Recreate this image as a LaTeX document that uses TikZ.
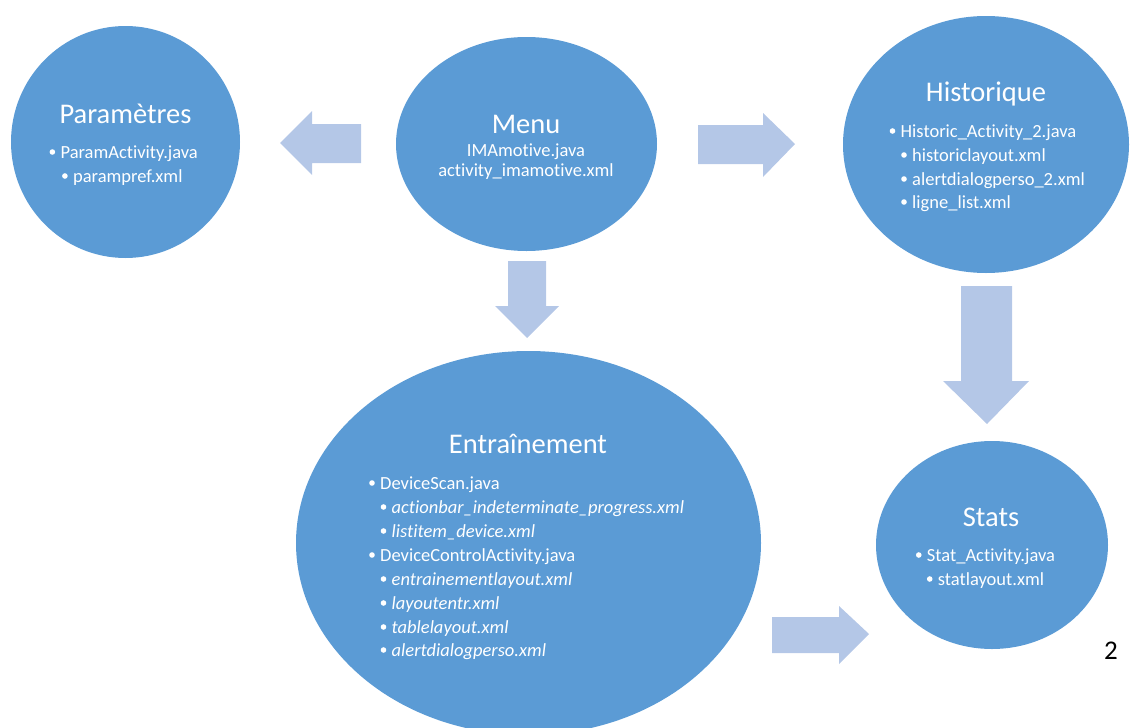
\documentclass[tikz,border=0pt]{standalone}
\usepackage{fontspec}
\setmainfont{Carlito}[Ligatures={NoCommon}]
\usetikzlibrary{shapes.geometric}
\definecolor{bubble}{HTML}{5B9BD5}
\definecolor{blockarrow}{HTML}{B4C7E7}
\tikzset{
  bubble/.style={ellipse, fill=bubble, draw=none, inner sep=0pt},
  ttl/.style={text=white, font=\fontsize{28.5}{30}\selectfont, inner sep=0pt, anchor=base},
  itemc/.style={text=white, font=\fontsize{18.5}{20}\selectfont, inner sep=0pt, anchor=base},
  iteml/.style={text=white, font=\fontsize{18.5}{20}\selectfont, inner sep=0pt, anchor=base west},
  itemi/.style={text=white, font=\fontsize{18.5}{20}\selectfont\itshape, inner sep=0pt, anchor=base west},
  blockarr/.style={fill=blockarrow, draw=none}
}
\newcommand{\bul}{\makebox[11pt][l]{\tikz[baseline={(0pt,-6pt)}]\fill[white] (2.8pt,0pt) circle[radius=2.8pt];}}
\begin{document}
\begin{tikzpicture}[x=1pt,y=-1pt]
\useasboundingbox (0,0) rectangle (1130,728);
% ellipses
\node[bubble, minimum width=229pt, minimum height=232pt] (param) at (125.5,142) {};
\node[bubble, minimum width=261pt, minimum height=214pt] (menu) at (526.5,144) {};
\node[bubble, minimum width=286pt, minimum height=257pt] (histo) at (986,144.5) {};
\node[bubble, minimum width=465pt, minimum height=384pt] (entr) at (528.5,543) {};
\node[bubble, minimum width=232pt, minimum height=208pt] (stats) at (992,545) {};
% block arrows
\fill[blockarr] (280,143) -- (312,111) -- (312,124) -- (361,124) -- (361,163) -- (312,163) -- (312,175) -- cycle;
\fill[blockarr] (795,144) -- (763,113) -- (763,125) -- (698,125) -- (698,164) -- (763,164) -- (763,177) -- cycle;
\fill[blockarr] (527,338) -- (495,306) -- (508,306) -- (508,261) -- (546,261) -- (546,306) -- (559,306) -- cycle;
\fill[blockarr] (987,424) -- (943,381) -- (961,381) -- (961,286) -- (1012,286) -- (1012,381) -- (1029,381) -- cycle;
\fill[blockarr] (869,634) -- (839,606) -- (839,617) -- (772,617) -- (772,653) -- (839,653) -- (839,664) -- cycle;
% Parametres
\node[ttl] (paramT) at (125.5,123) {Paramètres};
\node[itemc] (param1) at (123.7,158) {\bul ParamActivity.java};
\node[itemc] (param2) at (122.3,182) {\bul parampref.xml};
% Menu
\node[ttl] (menuT) at (526,133) {Menu};
\node[itemc] (menu1) at (526,156) {IMAmotive.java};
\node[itemc] (menu2) at (526,176) {activity\_imamotive.xml};
% Historique
\node[ttl] (histoT) at (986,101) {Historique};
\node[iteml] (histo1) at (889.5,137) {\bul Historic\_Activity\_2.java};
\node[iteml] (histo2) at (901,161) {\bul historiclayout.xml};
\node[iteml] (histo3) at (901,185) {\bul alertdialogperso\_2.xml};
\node[iteml] (histo4) at (901,208) {\bul ligne\_list.xml};
% Entrainement
\node[ttl] (entrT) at (528,453) {Entraînement};
\node[iteml] (entr1) at (369,489) {\bul DeviceScan.java};
\node[itemi] (entr2) at (380.5,513) {\bul actionbar\_indeterminate\_progress.xml};
\node[itemi] (entr3) at (380.5,537) {\bul listitem\_device.xml};
\node[iteml] (entr4) at (369,561) {\bul DeviceControlActivity.java};
\node[itemi] (entr5) at (380.5,585) {\bul entrainementlayout.xml};
\node[itemi] (entr6) at (380.5,609) {\bul layoutentr.xml};
\node[itemi] (entr7) at (380.5,633) {\bul tablelayout.xml};
\node[itemi] (entr8) at (380.5,656) {\bul alertdialogperso.xml};
% Stats
\node[ttl] (statsT) at (991,526) {Stats};
\node[itemc] (stats1) at (985.5,561) {\bul Stat\_Activity.java};
\node[itemc] (stats2) at (985.5,585) {\bul statlayout.xml};
% page number
\node[inner sep=0pt, anchor=base, font=\fontsize{27}{29}\selectfont] (pagenum) at (1111,659) {2};
\end{tikzpicture}
\end{document}
